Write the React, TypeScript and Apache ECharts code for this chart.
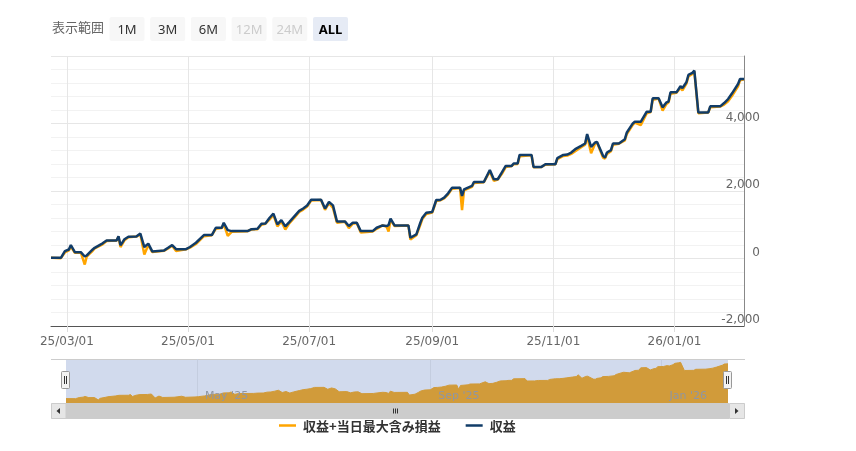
import React, { useEffect, useRef } from 'react';
import * as echarts from 'echarts';

const dates = [
  '2025-02-21', '2025-02-26', '2025-02-28', '2025-03-02', '2025-03-03', '2025-03-05', '2025-03-08', '2025-03-10',
  '2025-03-11', '2025-03-14', '2025-03-15', '2025-03-19', '2025-03-21', '2025-03-26', '2025-03-27', '2025-03-28',
  '2025-03-30', '2025-04-01', '2025-04-05', '2025-04-07', '2025-04-09', '2025-04-11', '2025-04-13', '2025-04-19',
  '2025-04-21', '2025-04-23', '2025-04-25', '2025-04-30', '2025-05-02', '2025-05-05', '2025-05-09', '2025-05-13',
  '2025-05-15', '2025-05-18', '2025-05-19', '2025-05-21', '2025-05-23', '2025-05-31', '2025-06-02', '2025-06-05',
  '2025-06-07', '2025-06-09', '2025-06-11', '2025-06-13', '2025-06-15', '2025-06-17', '2025-06-19', '2025-06-21',
  '2025-06-24', '2025-06-26', '2025-06-28', '2025-06-30', '2025-07-02', '2025-07-07', '2025-07-09', '2025-07-11',
  '2025-07-13', '2025-07-15', '2025-07-19', '2025-07-21', '2025-07-23', '2025-07-25', '2025-07-27', '2025-08-02',
  '2025-08-04', '2025-08-07', '2025-08-09', '2025-08-10', '2025-08-11', '2025-08-13', '2025-08-20', '2025-08-21',
  '2025-08-24', '2025-08-26', '2025-08-27', '2025-08-29', '2025-09-01', '2025-09-03', '2025-09-05', '2025-09-07',
  '2025-09-09', '2025-09-11', '2025-09-15', '2025-09-16', '2025-09-17', '2025-09-21', '2025-09-22', '2025-09-27',
  '2025-09-30', '2025-10-02', '2025-10-04', '2025-10-06', '2025-10-08', '2025-10-11', '2025-10-12', '2025-10-14',
  '2025-10-15', '2025-10-21', '2025-10-22', '2025-10-26', '2025-10-28', '2025-11-02', '2025-11-03', '2025-11-06',
  '2025-11-08', '2025-11-10', '2025-11-12', '2025-11-15', '2025-11-17', '2025-11-18', '2025-11-20', '2025-11-22',
  '2025-11-23', '2025-11-26', '2025-11-27', '2025-11-28', '2025-11-30', '2025-12-01', '2025-12-04', '2025-12-07',
  '2025-12-08', '2025-12-11', '2025-12-12', '2025-12-15', '2025-12-18', '2025-12-20', '2025-12-21', '2025-12-24',
  '2025-12-26', '2025-12-28', '2025-12-29', '2025-12-30', '2026-01-02', '2026-01-04', '2026-01-05', '2026-01-07',
  '2026-01-08', '2026-01-10', '2026-01-11', '2026-01-13', '2026-01-18', '2026-01-19', '2026-01-24', '2026-01-26',
  '2026-01-28', '2026-01-30', '2026-02-02', '2026-02-03', '2026-02-05',
];

const profit = [
  20, 20, 217, 267, 396, 188, 188, 60,
  89, 267, 317, 450, 535, 535, 660, 390,
  570, 645, 654, 740, 340, 440, 210, 240,
  320, 396, 275, 275, 340, 466, 693, 693,
  912, 912, 1060, 841, 812, 812, 870, 880,
  1030, 1040, 1200, 1330, 1010, 1139, 950, 1080,
  1280, 1410, 1480, 1570, 1740, 1740, 1480, 1674,
  1575, 1100, 1100, 961, 1060, 1060, 812, 812,
  912, 980, 960, 990, 1180, 981, 981, 614,
  713, 1060, 1208, 1357, 1380, 1733, 1733, 1803,
  1931, 2100, 2100, 1852, 2050, 2149, 2268, 2268,
  2624, 2348, 2348, 2546, 2744, 2744, 2813, 2813,
  3070, 3070, 2714, 2714, 2793, 2793, 2972, 3070,
  3080, 3140, 3239, 3338, 3407, 3685, 3308, 3437,
  3450, 3041, 2992, 3140, 3209, 3407, 3407, 3536,
  3734, 4002, 4051, 4051, 4348, 4348, 4746, 4746,
  4478, 4627, 4650, 4924, 4924, 5102, 5050, 5221,
  5438, 5500, 5567, 4329, 4329, 4508, 4508, 4606,
  4725, 4894, 5171, 5320, 5320,
];

const profitWithUnrealized = [
  20, 10, 180, 240, 350, 170, 180, -180,
  60, 230, 300, 420, 520, 530, 640, 340,
  540, 630, 650, 720, 120, 400, 190, 230,
  300, 380, 220, 270, 320, 430, 660, 690,
  880, 900, 1030, 670, 790, 810, 860, 870,
  1000, 1030, 1150, 1290, 950, 1100, 860, 1040,
  1240, 1380, 1450, 1540, 1720, 1730, 1440, 1640,
  1500, 1060, 1090, 900, 1030, 1050, 770, 800,
  880, 980, 940, 800, 1150, 960, 975, 560,
  690, 1000, 1170, 1320, 1360, 1700, 1725, 1780,
  1900, 2070, 2090, 1436, 2020, 2120, 2240, 2260,
  2580, 2300, 2340, 2500, 2710, 2740, 2790, 2800,
  3030, 3060, 2700, 2710, 2780, 2790, 2940, 3040,
  3050, 3100, 3180, 3300, 3370, 3640, 3120, 3400,
  3430, 2990, 2960, 3100, 3180, 3370, 3400, 3500,
  3690, 3960, 4030, 3950, 4300, 4340, 4700, 4740,
  4380, 4580, 4620, 4880, 4910, 5050, 4980, 5180,
  5390, 5470, 5540, 4300, 4325, 4480, 4500, 4560,
  4660, 4820, 5100, 5280, 5310,
];

const xTickDates = ['2025-03-01', '2025-05-01', '2025-07-01', '2025-09-01', '2025-11-01', '2026-01-01'];
const navTickDates = ['2025-05-01', '2025-09-01', '2026-01-01'];
const navTickLabels = ["May '25", "Sep '25", "Jan '26"];
const rangeButtons = ['1M', '3M', '6M', '12M', '24M', 'ALL'];
const disabledButtons = ['12M', '24M'];
const selectedButton = 'ALL';
const seriesNames = ['収益+当日最大含み損益', '収益'];
const rangeLabel = '表示範囲';

function ts(s: string): number {
  const [y, m, d] = s.split('-').map(Number);
  return Date.UTC(y, m - 1, d);
}

const LATIN = "'DejaVu Sans', sans-serif";
const CJK = "'Noto Sans CJK JP', 'Noto Sans', sans-serif";
const NAVY = '#113c68';

export default function App() {
  const ref = useRef<HTMLDivElement>(null);
  useEffect(() => {
    if (!ref.current) return;
    const chart = echarts.init(ref.current, undefined, { renderer: 'svg' });
    const xTicks = xTickDates.map(ts);
    const navTicks = navTickDates.map(ts);
    const xMin = ts(dates[0]);
    const xMax = ts(dates[dates.length - 1]);
    const navData = dates.map((d, i) => [ts(d), profitWithUnrealized[i]]);

    const graphic: any[] = [];
    graphic.push({
      type: 'text', left: 52, top: 20,
      style: { text: rangeLabel, fill: '#666', fontSize: 13, fontFamily: CJK },
    });
    rangeButtons.forEach((b, i) => {
      const x = 109.5 + i * 40.7;
      const sel = b === selectedButton;
      const dis = disabledButtons.includes(b);
      graphic.push({
        type: 'rect', shape: { x, y: 17, width: 35, height: 24, r: 2 },
        style: { fill: sel ? '#e6ebf5' : '#f7f7f7' },
      });
      graphic.push({
        type: 'text', x: x + 17.5, y: 29,
        style: {
          text: b, fill: sel ? '#000' : dis ? '#cccccc' : '#333', fontSize: 13,
          fontWeight: sel ? 'bold' : 'normal', fontFamily: "'Noto Sans', sans-serif",
          align: 'center', verticalAlign: 'middle',
        },
      });
    });
    graphic.push({ type: 'line', shape: { x1: 51, y1: 359.5, x2: 745, y2: 359.5 }, style: { stroke: '#cccccc', lineWidth: 1 } });
    graphic.push({ type: 'rect', shape: { x: 51, y: 403, width: 694, height: 16 }, style: { fill: '#f2f2f2' } });
    graphic.push({ type: 'rect', shape: { x: 66, y: 403, width: 663, height: 16 }, style: { fill: '#cccccc' } });
    graphic.push({ type: 'rect', shape: { x: 51.5, y: 403.5, width: 14.5, height: 15 }, style: { fill: '#e6e6e6', stroke: '#cccccc', lineWidth: 1 } });
    graphic.push({ type: 'rect', shape: { x: 729.5, y: 403.5, width: 15, height: 15 }, style: { fill: '#e6e6e6', stroke: '#cccccc', lineWidth: 1 } });
    graphic.push({ type: 'polygon', shape: { points: [[60, 408], [60, 414], [56.5, 411]] }, style: { fill: '#333' } });
    graphic.push({ type: 'polygon', shape: { points: [[735, 408], [735, 414], [738.5, 411]] }, style: { fill: '#333' } });
    [393.5, 395.5, 397.5].forEach((gx) => {
      graphic.push({ type: 'line', shape: { x1: gx, y1: 408.5, x2: gx, y2: 413.5 }, style: { stroke: '#333', lineWidth: 1 } });
    });
    [61.5, 723.5].forEach((hx) => {
      graphic.push({ type: 'rect', z: 100, shape: { x: hx, y: 371.5, width: 8, height: 17, r: 1 }, style: { fill: '#f2f2f2', stroke: '#999999', lineWidth: 1 } });
      graphic.push({ type: 'line', z: 101, shape: { x1: hx + 3, y1: 376, x2: hx + 3, y2: 384 }, style: { stroke: '#333', lineWidth: 1 } });
      graphic.push({ type: 'line', z: 101, shape: { x1: hx + 5, y1: 376, x2: hx + 5, y2: 384 }, style: { stroke: '#333', lineWidth: 1 } });
    });

    const fmtDate = (v: number) => {
      const d = new Date(v);
      const p = (n: number) => String(n).padStart(2, '0');
      return `${p(d.getUTCFullYear() % 100)}/${p(d.getUTCMonth() + 1)}/${p(d.getUTCDate())}`;
    };
    const navFmt = (v: number) => {
      const i = navTicks.indexOf(v);
      return i >= 0 ? navTickLabels[i] : '';
    };

    const option: any = {
      animation: false,
      textStyle: { fontFamily: LATIN },
      grid: [
        { left: 51, right: 112, top: 56, height: 270 },
        { left: 66, right: 128, top: 359, height: 44, show: true, backgroundColor: '#d1daed', borderWidth: 0 },
      ],
      xAxis: [
        {
          type: 'value', gridIndex: 0, min: xMin, max: xMax, scale: true,
          axisLine: { show: true, onZero: false, lineStyle: { color: '#555', width: 1 } },
          axisTick: { show: true, customValues: xTicks, length: 6, lineStyle: { color: '#dddddd' } },
          axisLabel: {
            customValues: xTicks, color: '#666', fontSize: 12, margin: 9, fontFamily: LATIN,
            formatter: fmtDate,
          },
          splitLine: { show: true, lineStyle: { color: '#e6e6e6', width: 1 } },
        },
        {
          type: 'value', gridIndex: 1, min: xMin, max: xMax, scale: true,
          axisLine: { show: false, onZero: false },
          axisTick: { show: false, customValues: navTicks },
          axisLabel: { show: false, customValues: navTicks },
          splitLine: { show: true, lineStyle: { color: '#c4cddf', width: 1 } },
        },
        {
          type: 'value', gridIndex: 1, min: xMin, max: xMax, scale: true, position: 'bottom', z: 20,
          axisLine: { show: false, onZero: false },
          axisTick: { show: false, customValues: navTicks },
          axisLabel: {
            customValues: navTicks, inside: true, margin: 2, color: '#8f96a3', fontSize: 11, fontFamily: LATIN,
            align: 'left', padding: [0, 0, 0, 8], formatter: navFmt,
          },
          splitLine: { show: false },
        },
      ],
      yAxis: [
        {
          type: 'value', gridIndex: 0, position: 'right', min: -2000, max: 6000, interval: 2000,
          axisLine: { show: true, lineStyle: { color: '#888', width: 1 } },
          axisTick: { show: false },
          axisLabel: {
            align: 'right', verticalAlign: 'bottom', margin: 16, showMaxLabel: false,
            color: '#666', fontSize: 12, fontFamily: LATIN, lineHeight: 14,
            formatter: (v: number) => v.toLocaleString('en-US'),
          },
          splitLine: { show: true, lineStyle: { color: '#e6e6e6', width: 1 } },
          minorTick: { show: false, splitNumber: 5 },
          minorSplitLine: { show: true, lineStyle: { color: '#f2f2f2', width: 1 } },
        },
        {
          type: 'value', gridIndex: 1, min: -650, max: 6050, show: false,
          splitLine: { show: false },
        },
      ],
      legend: {
        data: seriesNames,
        left: 279, top: 419, padding: 0,
        icon: 'rect', itemWidth: 17, itemHeight: 2.5, itemGap: 25,
        textStyle: { fontFamily: CJK, fontSize: 13, fontWeight: 'bold', color: '#333', padding: [0, 0, 0, 2] },
      },
      series: [
        {
          name: seriesNames[0], type: 'line', xAxisIndex: 0, yAxisIndex: 0,
          data: dates.map((d, i) => [ts(d), profitWithUnrealized[i]]),
          symbol: 'none', color: '#ffa500', lineStyle: { width: 2.5, color: '#ffa500' }, z: 2,
        },
        {
          name: seriesNames[1], type: 'line', xAxisIndex: 0, yAxisIndex: 0,
          data: dates.map((d, i) => [ts(d), profit[i]]),
          symbol: 'none', color: NAVY, lineStyle: { width: 2.5, color: NAVY }, z: 3,
        },
        {
          name: 'navigator', type: 'line', xAxisIndex: 1, yAxisIndex: 1,
          data: navData, symbol: 'none', silent: true,
          lineStyle: { width: 1, color: '#d19b3a' },
          areaStyle: { color: '#d19b3a', opacity: 1, origin: 'start' },
          z: 1,
        },
      ],
      graphic,
    };
    chart.setOption(option);
    return () => chart.dispose();
  }, []);
  return <div ref={ref} style={{ position: 'fixed', left: 0, top: 0, width: 856, height: 451 }} />;
}
